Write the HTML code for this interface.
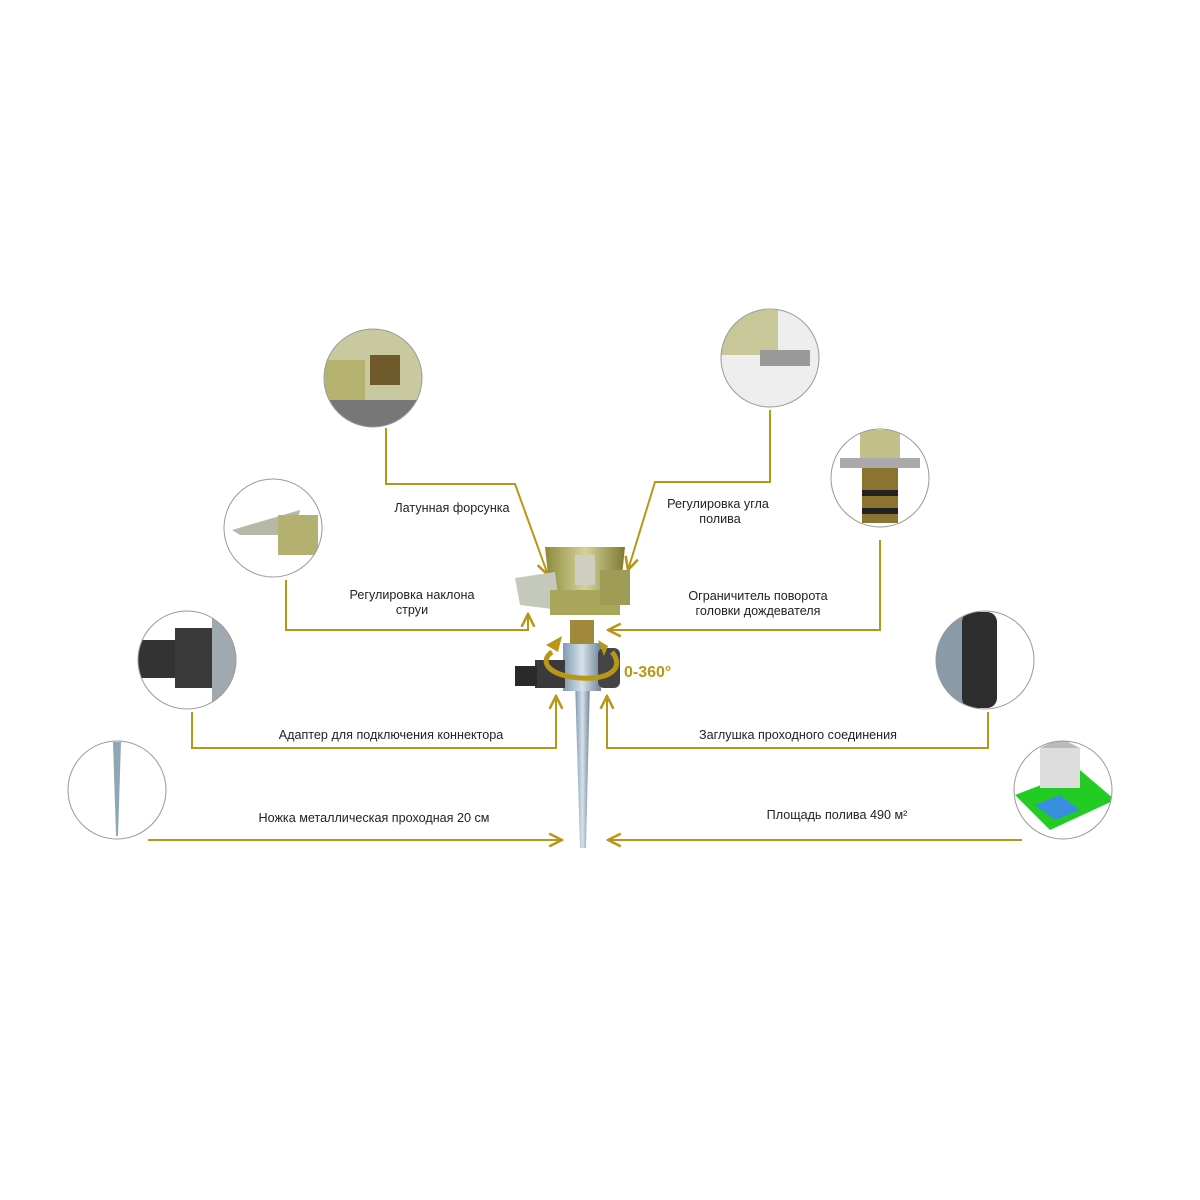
<!DOCTYPE html>
<html><head><meta charset="utf-8"><style>
html,body{margin:0;padding:0;background:#fff;width:1200px;height:1200px;overflow:hidden}
text{font-family:"Liberation Sans",sans-serif;font-size:12.6px;fill:#222}
</style></head><body>
<svg width="1200" height="1200" viewBox="0 0 1200 1200" xmlns="http://www.w3.org/2000/svg">
<defs>
<marker id="a" viewBox="0 0 10 10" refX="9" refY="5" markerWidth="8" markerHeight="8" orient="auto-start-reverse">
<path d="M1,1 L9,5 L1,9" fill="none" stroke="#b8961a" stroke-width="1.6"/></marker>
<linearGradient id="m" x1="0" x2="1"><stop offset="0" stop-color="#7f9ab0"/><stop offset=".5" stop-color="#d6e2ea"/><stop offset="1" stop-color="#6d8597"/></linearGradient>
<linearGradient id="o" x1="0" x2="1"><stop offset="0" stop-color="#8d8a3c"/><stop offset=".5" stop-color="#d4d39a"/><stop offset="1" stop-color="#7c7a32"/></linearGradient>
<clipPath id="c1"><circle cx="373" cy="378" r="49"/></clipPath>
<clipPath id="c2"><circle cx="770" cy="358" r="49"/></clipPath>
<clipPath id="c3"><circle cx="273" cy="528" r="49"/></clipPath>
<clipPath id="c4"><circle cx="880" cy="478" r="49"/></clipPath>
<clipPath id="c5"><circle cx="187" cy="660" r="49"/></clipPath>
<clipPath id="c6"><circle cx="985" cy="660" r="49"/></clipPath>
<clipPath id="c8"><circle cx="1063" cy="790" r="49"/></clipPath>
</defs>
<g fill="none" stroke="#b8961a" stroke-width="2">
<polyline points="386,428 386,484 515,484 548,575" marker-end="url(#a)"/>
<polyline points="770,410 770,482 655,482 628,570" marker-end="url(#a)"/>
<polyline points="286,580 286,630 528,630 528,614" marker-end="url(#a)"/>
<polyline points="880,540 880,630 608,630" marker-end="url(#a)"/>
<polyline points="192,712 192,748 556,748 556,696" marker-end="url(#a)"/>
<polyline points="988,712 988,748 607,748 607,696" marker-end="url(#a)"/>
<polyline points="148,840 562,840" marker-end="url(#a)"/>
<polyline points="1022,840 608,840" marker-end="url(#a)"/>
</g>
<g clip-path="url(#c1)"><rect x="320" y="325" width="110" height="110" fill="#c9c9a0"/><rect x="325" y="360" width="40" height="40" fill="#b5b270"/><rect x="370" y="355" width="30" height="30" fill="#6e5a2a"/><rect x="330" y="400" width="90" height="30" fill="#777"/></g>
<g clip-path="url(#c2)"><rect x="715" y="305" width="110" height="110" fill="#eee"/><rect x="718" y="310" width="60" height="45" fill="#c7c79a"/><rect x="760" y="350" width="50" height="16" fill="#999"/></g>
<g clip-path="url(#c3)"><rect x="220" y="475" width="110" height="110" fill="#fff"/><polygon points="232,530 300,510 295,535 240,535" fill="#b8b8a8"/><rect x="278" y="515" width="40" height="40" fill="#b3b070"/></g>
<g clip-path="url(#c4)"><rect x="825" y="425" width="110" height="110" fill="#fff"/><rect x="860" y="430" width="40" height="30" fill="#c2bf88"/><rect x="840" y="458" width="80" height="10" fill="#aaa"/><rect x="862" y="468" width="36" height="55" fill="#8a7430"/><rect x="862" y="490" width="36" height="6" fill="#222"/><rect x="862" y="508" width="36" height="6" fill="#222"/></g>
<g clip-path="url(#c5)"><rect x="135" y="605" width="110" height="110" fill="#fff"/><rect x="138" y="640" width="40" height="38" fill="#333"/><rect x="175" y="628" width="40" height="60" fill="#3a3a3a"/><rect x="212" y="615" width="25" height="90" fill="#a0a8b0"/></g>
<g clip-path="url(#c6)"><rect x="930" y="605" width="110" height="110" fill="#fff"/><rect x="935" y="615" width="30" height="90" fill="#8a9aa8"/><rect x="962" y="612" width="35" height="96" rx="10" fill="#2d2d2d"/></g>
<g clip-path="url(#c8)"><rect x="1010" y="735" width="110" height="110" fill="#fff"/><polygon points="1015,795 1080,770 1115,800 1050,830" fill="#22cc22"/><polygon points="1035,805 1060,795 1080,810 1055,820" fill="#3a8ee0"/><rect x="1040" y="748" width="40" height="40" fill="#ddd"/><polygon points="1040,748 1060,738 1080,748" fill="#bbb"/></g>
<g fill="none" stroke="#999" stroke-width="1">
<circle cx="373" cy="378" r="49"/><circle cx="770" cy="358" r="49"/><circle cx="273" cy="528" r="49"/><circle cx="880" cy="478" r="49"/><circle cx="187" cy="660" r="49"/><circle cx="985" cy="660" r="49"/><circle cx="117" cy="790" r="49"/><circle cx="1063" cy="790" r="49"/>
</g>
<polygon points="113,742 121,742 118,836 116,836" fill="#8fa6b5"/>
<polygon points="575,680 590,680 586,848 580,848" fill="url(#m)"/>
<rect x="563" y="643" width="38" height="48" fill="url(#m)"/>
<rect x="535" y="660" width="30" height="28" fill="#3a3a3a"/>
<rect x="515" y="666" width="22" height="20" fill="#2a2a2a"/>
<rect x="598" y="648" width="22" height="40" rx="6" fill="#444"/>
<rect x="570" y="620" width="24" height="24" fill="#a08a3a"/>
<polygon points="545,547 625,547 620,595 550,595" fill="url(#o)"/>
<polygon points="515,578 555,572 560,610 520,605" fill="#c5c9bc"/>
<rect x="550" y="590" width="70" height="25" fill="#a8a65a"/>
<rect x="600" y="570" width="30" height="35" fill="#9e9c55"/>
<rect x="575" y="555" width="20" height="30" fill="#cfcfc0"/>
<path d="M552,652 C540,660 545,675 580,678 C610,680 625,668 612,652" fill="none" stroke="#b8961a" stroke-width="5"/>
<polygon points="546,645 562,636 558,652" fill="#b8961a"/>
<polygon points="608,646 598,640 604,656" fill="#b8961a"/>
<text x="624" y="677" style="font-size:16px;font-weight:bold;fill:#b8961a">0-360°</text>
<text x="452" y="512" text-anchor="middle">Латунная форсунка</text>
<text x="718" y="508" text-anchor="middle">Регулировка угла</text>
<text x="720" y="523" text-anchor="middle">полива</text>
<text x="412" y="599" text-anchor="middle">Регулировка наклона</text>
<text x="412" y="614" text-anchor="middle">струи</text>
<text x="758" y="600" text-anchor="middle">Ограничитель поворота</text>
<text x="758" y="615" text-anchor="middle">головки дождевателя</text>
<text x="391" y="739" text-anchor="middle">Адаптер для подключения коннектора</text>
<text x="798" y="739" text-anchor="middle">Заглушка проходного соединения</text>
<text x="374" y="822" text-anchor="middle">Ножка металлическая проходная 20 см</text>
<text x="837" y="819" text-anchor="middle">Площадь полива 490 м²</text>
</svg>
</body></html>
